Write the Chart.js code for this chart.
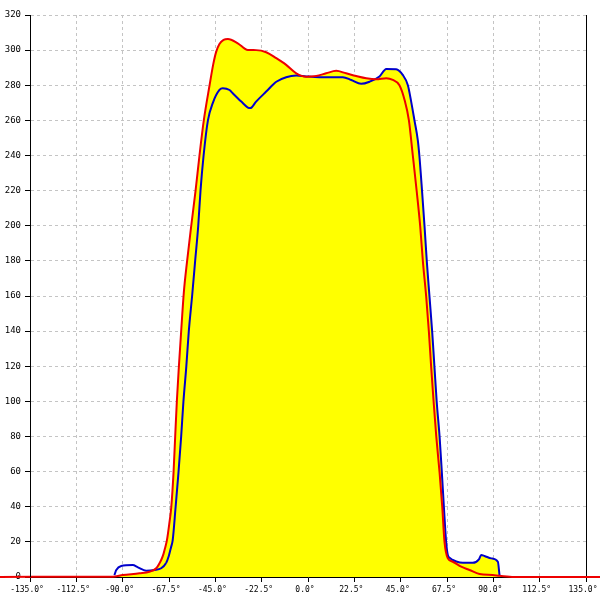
<!DOCTYPE html>
<html>
<head>
<meta charset="utf-8">
<script src="https://cdn.jsdelivr.net/npm/chart.js@4/dist/chart.umd.min.js"></script>
<style>
html,body{margin:0;padding:0;background:#fff;}
#wrap{width:600px;height:600px;}
</style>
</head>
<body>
<div id="wrap"><canvas id="c" width="600" height="600"></canvas></div>
<script>
// Angles (degrees) and values for the red series
const redAngles = [-150, -101, -94.8, -89.9, -81.8, -77, -73.7, -71.3, -70.2, -69.3, -68.5, -67.4, -66.4, -65.3, -64.5, -63.7, -62.7, -61.6, -60.3, -58.7, -56.7, -54.6, -52.7, -50.6, -47.8, -46, -44.6, -43, -41, -38.9, -34.1, -29.2, -25.2, -20.3, -15.4, -10.6, -5.7, -0.9, 4, 8.8, 13.7, 18.5, 23.4, 28.3, 33.1, 38, 41.2, 44.4, 46.9, 49, 50.9, 52.8, 54.5, 55.8, 57.4, 58.7, 59.8, 61, 62.3, 63.9, 65.2, 66.3, 67.9, 70.3, 74.4, 78.4, 83.3, 89.7, 93, 100, 150];
const redValues = [0, 0.2, 0.2, 1.1, 2.1, 3, 5, 9.7, 13, 17, 21, 30, 39.7, 59.4, 79.9, 99.8, 119.8, 139.7, 162, 180, 200, 220, 240, 260, 280, 292, 299, 303.5, 305.8, 306.3, 303.9, 300.1, 300, 298.8, 295.4, 291.6, 286.8, 284.9, 285.3, 286.8, 288.2, 286.8, 285.3, 284, 283.4, 284, 283, 280, 271.6, 260, 240, 219.5, 199.5, 179.6, 159.6, 139.7, 119.8, 99.8, 79.9, 59.4, 39.7, 19.8, 10.6, 8.7, 5.9, 4, 1.7, 1.1, 0.7, 0, 0];

// Angles (degrees) and values for the blue series
const blueAngles = [-94, -93.1, -90.7, -85.1, -82.6, -78.6, -74.5, -71.3, -68.9, -67.6, -66.5, -65.7, -64.3, -62.9, -61.6, -60.5, -59.1, -57.9, -56.2, -54.8, -53.3, -52.2, -50.7, -48.6, -46.2, -43, -41.4, -38.1, -36.5, -32.4, -29.2, -28, -25.2, -20.3, -15.4, -10.6, -5.7, -0.9, 5.6, 12, 16.9, 21, 25.8, 29.9, 34.7, 38, 42.8, 46, 48.5, 50.1, 51.7, 53.3, 54.1, 55.4, 56.6, 57.7, 59, 60.3, 61.4, 62.5, 63.9, 65, 66, 67.1, 67.9, 68.7, 70.3, 72, 75.2, 80, 83, 84.1, 85.7, 89, 92.2, 93];
const blueValues = [1.1, 4, 6.3, 6.8, 5.5, 3.6, 4, 5, 8, 12, 17, 21, 39.7, 59.4, 79.9, 99.8, 119.8, 139.7, 161, 180, 200, 220, 240, 260, 270, 277.3, 278.3, 277.3, 275.4, 270.7, 267.3, 267, 270.7, 276.4, 282, 284.6, 285.5, 285, 284.6, 284.6, 284.6, 283, 280.8, 282, 285, 289.3, 289.1, 285.9, 280, 270.7, 260, 248.9, 239.7, 219.5, 199.5, 179.6, 159.6, 139.7, 119.8, 99.8, 79.9, 59.4, 39.7, 19.8, 12.5, 11, 9.7, 8.8, 8.1, 8.1, 10.1, 12.5, 12, 10.6, 8.7, 1.1];

const xTicks = [-135, -112.5, -90, -67.5, -45, -22.5, 0, 22.5, 45, 67.5, 90, 112.5, 135];
const yTicks = [0, 20, 40, 60, 80, 100, 120, 140, 160, 180, 200, 220, 240, 260, 280, 300, 320];

const redData = redAngles.map((a, i) => ({x: a, y: redValues[i]}));
const blueData = blueAngles.map((a, i) => ({x: a, y: blueValues[i]}));

const gridDash = {color: '#c4c4c4', lineWidth: 1, tickColor: '#000', tickLength: 5, tickWidth: 1};

new Chart(document.getElementById('c'), {
  type: 'line',
  data: {
    datasets: [
      {
        label: 'red',
        data: redData,
        borderColor: '#ee0000',
        borderWidth: 2,
        pointRadius: 0,
        cubicInterpolationMode: 'monotone',
        fill: {target: 'origin', above: '#ffff00'},
        backgroundColor: '#ffff00',
        clip: false,
        order: 1
      },
      {
        label: 'blue',
        data: blueData,
        borderColor: '#0000cc',
        borderWidth: 2,
        pointRadius: 0,
        cubicInterpolationMode: 'monotone',
        fill: {target: 0, above: '#ffff00', below: 'rgba(0,0,0,0)'},
        segment: {
          backgroundColor: ctx => (ctx.p0.parsed.x < -70 ? 'rgba(0,0,0,0)' : undefined)
        },
        clip: false,
        order: 2
      }
    ]
  },
  options: {
    responsive: false,
    animation: false,
    events: [],
    layout: {padding: {top: 15, left: 0, right: 0, bottom: 0}},
    plugins: {
      legend: {display: false},
      tooltip: {enabled: false},
      filler: {drawTime: 'beforeDatasetsDraw'}
    },
    scales: {
      x: {
        type: 'linear',
        min: -135,
        max: 135,
        afterBuildTicks: s => { s.ticks = xTicks.map(v => ({value: v})); },
        afterFit: s => { s.height = 23; s.paddingLeft = 0; s.paddingRight = 0; },
        ticks: {
          color: '#000',
          font: {family: 'DejaVu Sans Mono', size: 8},
          padding: 3,
          labelOffset: -3,
          maxRotation: 0,
          autoSkip: false,
          callback: v => v.toFixed(1) + '°'
        },
        grid: Object.assign({}, gridDash, {drawOnChartArea: true}),
        border: {display: true, color: '#000', width: 1, dash: [3, 3]}
      },
      y: {
        type: 'linear',
        position: 'left',
        min: 0,
        max: 320,
        afterBuildTicks: s => { s.ticks = yTicks.map(v => ({value: v})); },
        afterFit: s => { s.width = 30; s.paddingTop = 0; s.paddingBottom = 0; },
        ticks: {color: '#000', font: {family: 'DejaVu Sans Mono', size: 9}, padding: 4, autoSkip: false},
        grid: Object.assign({}, gridDash),
        border: {display: true, color: '#000', width: 1, dash: [3, 3]}
      },
      y2: {
        type: 'linear',
        position: 'right',
        min: 0,
        max: 320,
        afterFit: s => { s.width = 14; s.paddingTop = 0; s.paddingBottom = 0; },
        ticks: {display: false},
        grid: {drawOnChartArea: false, drawTicks: false},
        border: {display: true, color: '#000', width: 1}
      }
    }
  },
  plugins: [{
    id: 'solidAxes',
    afterDraw(chart) {
      const {ctx, chartArea: a} = chart;
      ctx.save();
      ctx.strokeStyle = '#000';
      ctx.lineWidth = 1;
      ctx.setLineDash([]);
      ctx.beginPath();
      ctx.moveTo(a.left + 0.5, a.top);
      ctx.lineTo(a.left + 0.5, a.bottom);
      ctx.stroke();
      ctx.restore();
    }
  }]
});
</script>
</body>
</html>
